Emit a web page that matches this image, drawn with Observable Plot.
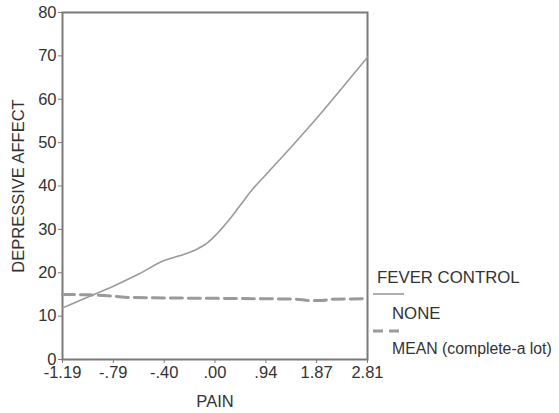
<!DOCTYPE html>
<html><head><meta charset="utf-8">
<script src="https://cdn.jsdelivr.net/npm/d3@7"></script>
<script src="https://cdn.jsdelivr.net/npm/@observablehq/plot@0.6"></script>
<style>
body{margin:0;background:#fff;font-family:"Liberation Sans",Arial,sans-serif;}
#wrap{position:relative;width:559px;height:413px;}
.lg{position:absolute;font-size:16.8px;color:#333;white-space:nowrap;}
</style></head><body>
<div id="wrap"></div>
<script>
// tick labels (equally spaced positions on the PAIN axis)
const xTickLabels = ["-1.19", "-.79", "-.40", ".00", ".94", "1.87", "2.81"];
const yTicks = [0, 10, 20, 30, 40, 50, 60, 70, 80];
// NONE series: position along axis (tick index units) and depressive affect
const noneX = [0, 0.5, 1, 1.5, 2, 2.3, 2.6, 2.85, 3, 3.25, 3.5, 3.75, 4, 4.5, 5, 5.5, 6];
const noneY = [11.9, 14.4, 16.9, 19.7, 22.8, 23.9, 25.2, 26.9, 28.5, 31.8, 35.6, 39.4, 42.6, 49.0, 55.6, 62.6, 69.7];
// MEAN series
const meanX = [0, 0.5, 1, 1.3, 2, 3, 4, 4.6, 4.85, 5.1, 5.3, 6];
const meanY = [15.0, 14.9, 14.6, 14.3, 14.2, 14.1, 14.0, 13.9, 13.6, 13.6, 13.9, 14.0];
const legendTitle = "FEVER CONTROL";
const seriesNames = ["NONE", "MEAN (complete-a lot)"];

const none = noneX.map((x, i) => ({x, y: noneY[i]}));
const mean = meanX.map((x, i) => ({x, y: meanY[i]}));

const axisColor = "#7a7a7a";
const lineColor = "#9a9a9a";

const chart = Plot.plot({
  width: 559, height: 413,
  marginLeft: 62, marginRight: 192, marginTop: 12, marginBottom: 54,
  style: {fontFamily: "'Liberation Sans', Arial, sans-serif", fontSize: "16.5px", color: "#333", background: "#fff"},
  x: {domain: [0, 6]},
  y: {domain: [0, 80]},
  marks: [
    Plot.axisX({ticks: xTickLabels.map((d, i) => i), tickFormat: i => xTickLabels[i], tickSize: 4, tickPadding: 3,
      stroke: axisColor, color: "#333", label: "PAIN", labelAnchor: "center", labelArrow: "none", labelOffset: 47}),
    Plot.axisY({ticks: yTicks, tickSize: 4, tickPadding: 2, stroke: axisColor, color: "#333",
      label: "DEPRESSIVE AFFECT", labelAnchor: "center", labelArrow: "none", labelOffset: 50}),
    Plot.frame({stroke: axisColor, strokeWidth: 2}),
    Plot.line(none, {x: "x", y: "y", stroke: lineColor, strokeWidth: 1.6, curve: "monotone-x"}),
    Plot.line(mean, {x: "x", y: "y", stroke: lineColor, strokeWidth: 3, strokeDasharray: "12,6", curve: "monotone-x"})
  ]
});
const wrap = document.getElementById("wrap");
wrap.appendChild(chart);

function addText(t, left, top, size) {
  const d = document.createElement("div");
  d.className = "lg"; d.textContent = t;
  d.style.left = left + "px"; d.style.top = top + "px";
  if (size) d.style.fontSize = size + "px";
  wrap.appendChild(d);
}
function addSample(top, dash, w) {
  const ns = "http://www.w3.org/2000/svg";
  const s = document.createElementNS(ns, "svg");
  s.setAttribute("width", 32); s.setAttribute("height", 6);
  s.style.position = "absolute"; s.style.left = "373px"; s.style.top = (top - 3) + "px";
  const l = document.createElementNS(ns, "line");
  l.setAttribute("x1", 0); l.setAttribute("x2", 31); l.setAttribute("y1", 3); l.setAttribute("y2", 3);
  l.setAttribute("stroke", lineColor); l.setAttribute("stroke-width", w);
  if (dash) l.setAttribute("stroke-dasharray", dash);
  s.appendChild(l); wrap.appendChild(s);
}
addText(legendTitle, 377, 268);
addSample(294, null, 1.6);
addText(seriesNames[0], 392, 304);
addSample(331, "10,6", 3);
addText(seriesNames[1], 392, 340, 15.8);
</script>
</body></html>
